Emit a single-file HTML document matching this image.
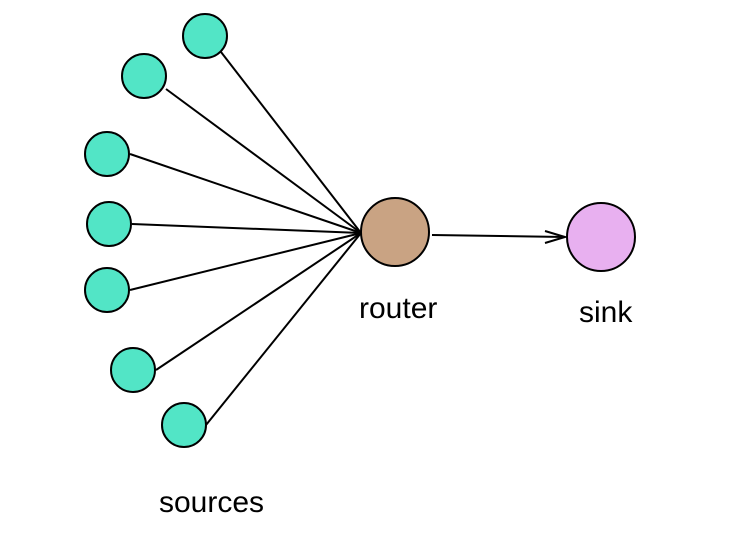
<!DOCTYPE html>
<html><head><style>html,body{margin:0;padding:0;background:#fff;}</style></head>
<body>
<svg width="742" height="541" viewBox="0 0 742 541" xmlns="http://www.w3.org/2000/svg">
<g stroke="#000" stroke-width="2" fill="none">
<line x1="221" y1="52" x2="361" y2="233"/>
<line x1="166" y1="89" x2="361" y2="233"/>
<line x1="130" y1="154" x2="361" y2="233"/>
<line x1="132" y1="224" x2="361" y2="233"/>
<line x1="130" y1="290" x2="361" y2="233"/>
<line x1="156" y1="370" x2="361" y2="233"/>
<line x1="206" y1="425" x2="361" y2="233"/>
<line x1="432" y1="235" x2="565" y2="237"/>
<polyline points="545,231 565,237 545,243"/>
</g>
<g stroke="#000" stroke-width="2" fill="#52e5c6">
<circle cx="205" cy="36" r="22"/>
<circle cx="144" cy="76" r="22"/>
<circle cx="107" cy="154" r="22"/>
<circle cx="109" cy="224" r="22"/>
<circle cx="107" cy="290" r="22"/>
<circle cx="133" cy="370" r="22"/>
<circle cx="184" cy="425" r="22"/>
</g>
<circle cx="395" cy="232" r="34" fill="#c9a383" stroke="#000" stroke-width="2"/>
<circle cx="601" cy="237" r="34" fill="#e8b0f0" stroke="#000" stroke-width="2"/>
<g font-family="Liberation Sans, sans-serif" font-size="30" fill="#000">
<text x="359" y="318">router</text>
<text x="579" y="322">sink</text>
<text x="159" y="512">sources</text>
</g>
</svg>
</body></html>
